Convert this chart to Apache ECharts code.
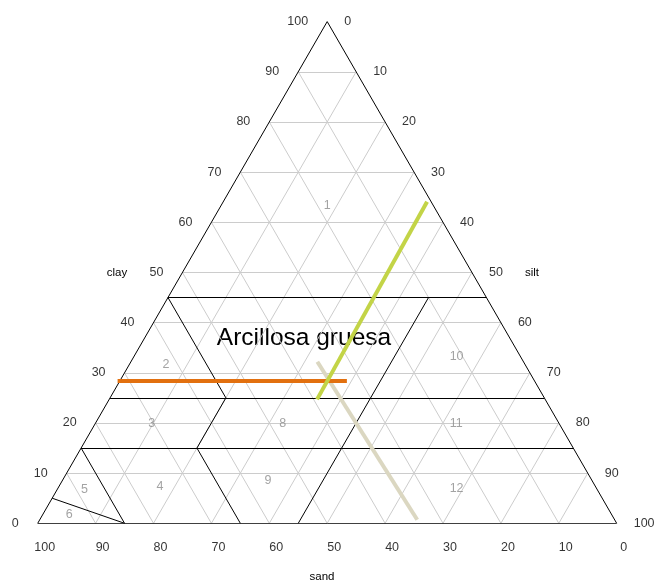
<!DOCTYPE html>
<html>
<head>
<meta charset="utf-8">
<title>Triángulo textural</title>
<script src="https://cdn.jsdelivr.net/npm/echarts@6/dist/echarts.min.js"></script>
<style>
  html, body { margin: 0; padding: 0; background: #fff; }
  #chart { width: 655px; height: 583px; }
</style>
</head>
<body>
<div id="chart"></div>
<script>
// tick values of the three axes
const ticks = [0, 10, 20, 30, 40, 50, 60, 70, 80, 90, 100];
const gridSteps = [10, 20, 30, 40, 50, 60, 70, 80, 90];

// class borders, [clay, silt] at each end
const borderFrom = [[45, 0], [25, 0], [15, 0], [45, 0], [25, 20], [15, 20], [45, 45], [15, 0], [5, 0]];
const borderTo = [[45, 55], [25, 75], [15, 85], [25, 20], [15, 20], [0, 35], [0, 45], [0, 15], [0, 15]];

// class numbers and where they sit (clay %, silt %)
const classNames = ["1", "2", "3", "4", "5", "6", "8", "9", "10", "11", "12"];
const classClay = [63.4, 31.7, 19.8, 7.4, 6.8, 1.7, 19.8, 8.5, 33.3, 19.8, 6.9];
const classSilt = [18.3, 6.3, 9.8, 17.4, 4.7, 4.6, 32.4, 35.5, 55.7, 62.4, 68.9];

// highlighted lines, [clay, silt] at each end
const orangeLine = [[28.4, -0.4], [28.4, 39.2]];
const greenLine = [[64.1, 35.2], [24.7, 35.9]];
const beigeLine = [[32.2, 32.2], [0.7, 65.2]];

const H = 86.6025;
const FONT = "'Liberation Sans', Arial, sans-serif";

// ternary (clay, silt) -> cartesian
function xy(clay, silt) {
  return [clay / 2 + silt, clay * H / 100];
}
function seg(a, b) {
  return { coords: [xy(a[0], a[1]), xy(b[0], b[1])] };
}

let gridLines = [];
gridSteps.forEach(k => {
  gridLines.push(seg([k, 0], [k, 100 - k]));       // clay
  gridLines.push(seg([0, k], [100 - k, k]));       // silt
  gridLines.push(seg([100 - k, 0], [0, 100 - k])); // sand
});

let borders = [
  seg([0, 0], [100, 0]),
  seg([100, 0], [0, 100]),
  seg([0, 100], [0, 0])
];
borderFrom.forEach((a, i) => borders.push(seg(a, borderTo[i])));

function lineSeries(data, color, width, z) {
  return {
    type: "lines",
    coordinateSystem: "cartesian2d",
    data: data,
    silent: true,
    z: z,
    lineStyle: { color: color, width: width, opacity: 1 }
  };
}

function labelSeries(data, label) {
  return {
    type: "scatter",
    symbolSize: 0,
    silent: true,
    z: 10,
    data: data,
    label: Object.assign({
      show: true,
      fontFamily: FONT,
      fontSize: 12.5,
      color: "#000",
      formatter: p => p.value[2]
    }, label)
  };
}

let chart = echarts.init(document.getElementById("chart"));
chart.setOption({
  animation: false,
  grid: { left: 37.7, right: 38.3, top: 21.6, bottom: 59.7 },
  xAxis: { type: "value", min: 0, max: 100, show: false },
  yAxis: { type: "value", min: 0, max: H, show: false },
  graphic: [
    {
      type: "text", position: [304, 338], z: 1,
      style: {
        text: "Arcillosa gruesa", fontFamily: FONT, fontSize: 24.5,
        fill: "#000", textAlign: "center", textVerticalAlign: "middle"
      }
    },
    { type: "text", position: [117, 273], style: { text: "clay", fontFamily: FONT, fontSize: 11.5, fill: "#000", textAlign: "center", textVerticalAlign: "middle" } },
    { type: "text", position: [532, 273], style: { text: "silt", fontFamily: FONT, fontSize: 11.5, fill: "#000", textAlign: "center", textVerticalAlign: "middle" } },
    { type: "text", position: [322, 577], style: { text: "sand", fontFamily: FONT, fontSize: 11.5, fill: "#000", textAlign: "center", textVerticalAlign: "middle" } }
  ],
  series: [
    lineSeries(gridLines, "#cccccc", 1, 2),
    lineSeries(borders, "#000000", 1, 3),
    lineSeries([seg(orangeLine[0], orangeLine[1])], "#e2700f", 4, 5),
    lineSeries([seg(greenLine[0], greenLine[1])], "#c3d447", 4, 5),
    lineSeries([seg(beigeLine[0], beigeLine[1])], "#dbd7c1", 4, 4),
    labelSeries(ticks.map(k => xy(k, 0).concat(k)), { position: "left", distance: 19 }),
    labelSeries(ticks.map(k => xy(100 - k, k).concat(k)), { position: "right", distance: 17 }),
    labelSeries(ticks.map(k => xy(0, 100 - k).concat(k)), { position: "inside", offset: [7, 24] }),
    labelSeries(classNames.map((n, i) => xy(classClay[i], classSilt[i]).concat(n)),
      { position: "inside", color: "#8c8c8c" })
  ]
});
</script>
</body>
</html>
